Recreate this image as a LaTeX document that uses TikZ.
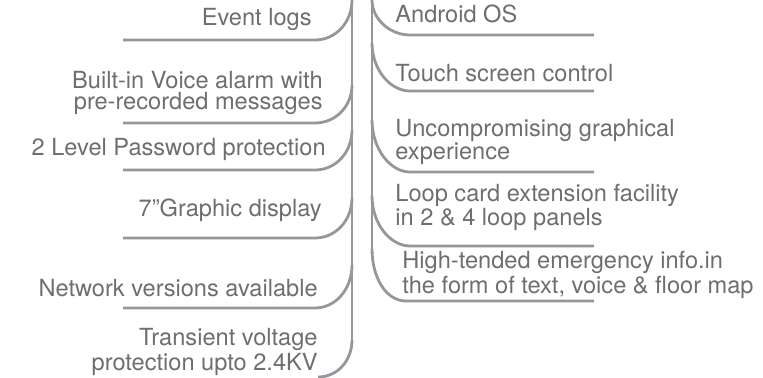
\documentclass[tikz,border=0pt]{standalone}
\usepackage{fontspec}
\setmainfont{TeX Gyre Heros}
\definecolor{txtgray}{RGB}{109,110,113}
\definecolor{linegray}{RGB}{150,150,156}

\begin{document}
\begin{tikzpicture}[x=0.5pt,y=-0.5pt,
  feat/.style={text=txtgray, inner sep=0pt, font=\fontsize{11.8}{10.5}\selectfont},
  lfeat/.style={feat, anchor=base east, align=right},
  rfeat/.style={feat, anchor=base west, align=left},
  branch/.style={linegray, line width=1.4pt}]
\useasboundingbox (0,0) rectangle (763,378);

% spines
\coordinate (ltop) at (352,0);
\coordinate (lbot) at (352,340);
\coordinate (rtop) at (372,0);
\coordinate (rbot) at (372,250);
\draw[branch] (ltop) -- (lbot);
\draw[branch] (rtop) -- (rbot);

% left branches
\foreach \y/\h in {40/40,123/38,170/40,238/40,308/43}
  \draw[branch] (123,\y) -- (315,\y) .. controls (336,\y) and (352,\y-0.45*\h) .. (352,\y-\h);
\draw[branch] (lbot) .. controls (352,360) and (338,377) .. (318,377);

% right branches
\foreach \y/\h/\e in {35/35/410,91/48/410,172/52/410,246/50/410,301/52/406}
  \draw[branch] (372,\y-\h) .. controls (372,\y-0.45*\h) and (\e-20,\y) .. (\e,\y) -- (594,\y);

% left features (base = last line)
\node[lfeat] (evlog) at (312,26) {Event logs};
\node[lfeat] (voice) at (323,110) {Built-in Voice alarm with\\pre-recorded messages};
\node[lfeat] (pwd) at (326,156) {2 Level Password protection};
\node[lfeat] (disp) at (322,217) {7”Graphic display};
\node[lfeat] (net) at (318,297) {Network versions available};
\node[lfeat] (surge) at (318,370) {Transient voltage\\protection upto 2.4KV};

% right features
\node[rfeat] (os) at (395,23) {Android OS};
\node[rfeat] (touch) at (395,82) {Touch screen control};
\node[rfeat] (gfx) at (395,160) {Uncompromising graphical\\experience};
\node[rfeat] (loop) at (395,226) {Loop card extension facility\\in 2 \& 4 loop panels};
\node[rfeat] (info) at (402,293) {High-tended emergency info.in\\the form of text, voice \& floor map};
\end{tikzpicture}
\end{document}
